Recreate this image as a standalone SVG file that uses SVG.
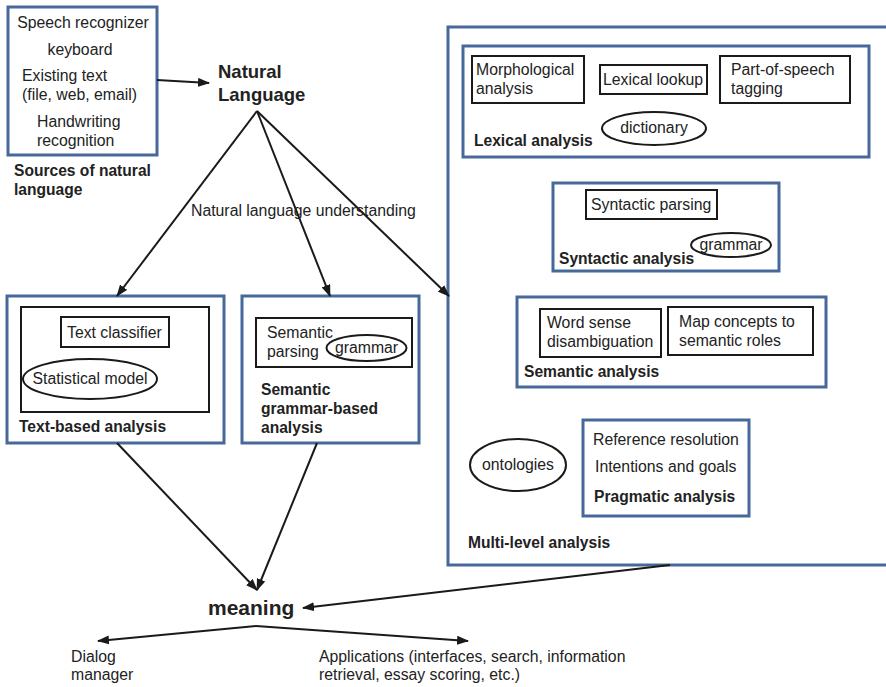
<svg xmlns="http://www.w3.org/2000/svg" width="886" height="687" viewBox="0 0 886 687">
  <defs>
    <marker id="ah" viewBox="0 0 12 9" refX="11" refY="4.5" markerWidth="12" markerHeight="9" orient="auto" markerUnits="userSpaceOnUse">
      <path d="M0,0 L12,4.5 L0,9 z" fill="#1a1a1a"/>
    </marker>
  </defs>
  <style>
    text { font-family: "Liberation Sans", Arial, Helvetica, sans-serif; fill: #222; font-size: 15.8px; }
    .b { font-weight: bold; font-size: 15.6px; }
    .big { font-weight: bold; font-size: 18.5px; }
    .huge { font-weight: bold; font-size: 21px; }
    .mid { text-anchor: middle; }
    .frame { fill: #fff; stroke: #47689a; stroke-width: 3; }
    .box { fill: none; stroke: #1a1a1a; stroke-width: 2; }
    .oval { fill: none; stroke: #1a1a1a; stroke-width: 2; }
    .edge { fill: none; stroke: #1a1a1a; stroke-width: 2; marker-end: url(#ah); }
  </style>
  <rect width="886" height="687" fill="#fff"/>

  <!-- sources of natural language -->
  <g id="sources">
    <rect class="frame" x="8" y="7" width="149" height="148"/>
    <text class="mid" x="83" y="28">Speech recognizer</text>
    <text class="mid" x="80" y="55">keyboard</text>
    <text x="22" y="81">Existing text</text>
    <text x="22" y="100">(file, web, email)</text>
    <text x="37" y="127">Handwriting</text>
    <text x="37" y="146">recognition</text>
    <text class="b" x="14" y="176">Sources of natural</text>
    <text class="b" x="14" y="195">language</text>
  </g>

  <g id="natural-language">
    <text class="big" x="218" y="78">Natural</text>
    <text class="big" x="218" y="101">Language</text>
  </g>

  <!-- text-based analysis -->
  <g id="text-based">
    <rect class="frame" x="7" y="296" width="217" height="147"/>
    <rect class="box" x="21" y="307" width="188" height="105"/>
    <rect class="box" x="61" y="317" width="108" height="30"/>
    <text x="67" y="338">Text classifier</text>
    <ellipse class="oval" cx="90" cy="379" rx="67" ry="20"/>
    <text class="mid" x="90" y="384">Statistical model</text>
    <text class="b" x="19" y="432">Text-based analysis</text>
  </g>

  <!-- semantic grammar-based analysis -->
  <g id="semantic-grammar">
    <rect class="frame" x="242" y="296" width="177" height="147"/>
    <rect class="box" x="256" y="318" width="156" height="49"/>
    <text x="267" y="338">Semantic</text>
    <text x="267" y="357">parsing</text>
    <ellipse class="oval" cx="366.5" cy="348" rx="40" ry="13"/>
    <text class="mid" x="366.5" y="353">grammar</text>
    <text class="b" x="261" y="395">Semantic</text>
    <text class="b" x="261" y="414">grammar-based</text>
    <text class="b" x="261" y="433">analysis</text>
  </g>

  <!-- multi-level analysis -->
  <g id="multi-level">
    <rect class="frame" x="448" y="27" width="450" height="538"/>
    <text class="b" x="468" y="548">Multi-level analysis</text>
  </g>

  <g id="lexical">
    <rect class="frame" x="463" y="46" width="406" height="111"/>
    <rect class="box" x="472" y="56" width="112" height="47"/>
    <text x="476" y="75">Morphological</text>
    <text x="476" y="94">analysis</text>
    <rect class="box" x="600" y="65" width="107" height="29"/>
    <text x="603" y="85">Lexical lookup</text>
    <rect class="box" x="720" y="56" width="130" height="47"/>
    <text x="731" y="75">Part-of-speech</text>
    <text x="731" y="94">tagging</text>
    <ellipse class="oval" cx="654" cy="128.5" rx="52" ry="16.5"/>
    <text class="mid" x="654" y="133">dictionary</text>
    <text class="b" x="474" y="146">Lexical analysis</text>
  </g>

  <g id="syntactic">
    <rect class="frame" x="553" y="183" width="226" height="88"/>
    <rect class="box" x="586" y="190" width="131" height="29"/>
    <text x="591" y="210">Syntactic parsing</text>
    <ellipse class="oval" cx="731" cy="245" rx="40" ry="12"/>
    <text class="mid" x="731" y="250">grammar</text>
    <text class="b" x="559" y="264">Syntactic analysis</text>
  </g>

  <g id="semantic">
    <rect class="frame" x="517" y="297" width="309" height="90"/>
    <rect class="box" x="540" y="309" width="121" height="48"/>
    <text x="547" y="328">Word sense</text>
    <text x="547" y="347">disambiguation</text>
    <rect class="box" x="668" y="307" width="145" height="48"/>
    <text x="679" y="327">Map concepts to</text>
    <text x="679" y="346">semantic roles</text>
    <text class="b" x="524" y="377">Semantic analysis</text>
  </g>

  <g id="pragmatic">
    <rect class="frame" x="583" y="420" width="166" height="96"/>
    <text x="593" y="445">Reference resolution</text>
    <text x="595" y="472">Intentions and goals</text>
    <text class="b" x="594" y="502">Pragmatic analysis</text>
  </g>

  <g id="ontologies">
    <ellipse class="oval" cx="518" cy="465" rx="48" ry="26"/>
    <text class="mid" x="518" y="470">ontologies</text>
  </g>

  <g id="meaning">
    <text class="huge" x="208" y="615">meaning</text>
  </g>

  <g id="outputs">
    <text x="71" y="662">Dialog</text>
    <text x="71" y="680">manager</text>
    <text x="319" y="662">Applications (interfaces, search, information</text>
    <text x="319" y="680">retrieval, essay scoring, etc.)</text>
  </g>

  <!-- connectors -->
  <g id="connectors">
    <line class="edge" x1="157" y1="80" x2="209" y2="83"/>
    <line class="edge" x1="257" y1="111" x2="117" y2="296"/>
    <line class="edge" x1="257" y1="111" x2="330" y2="296"/>
    <line class="edge" x1="257" y1="111" x2="449" y2="296"/>
    <line class="edge" x1="117" y1="443" x2="257" y2="590"/>
    <line class="edge" x1="317" y1="443" x2="257" y2="590"/>
    <line class="edge" x1="670" y1="565" x2="303" y2="608"/>
    <line class="edge" x1="256" y1="626" x2="98" y2="641"/>
    <line class="edge" x1="256" y1="626" x2="468" y2="641"/>
  </g>
  <text x="191" y="216">Natural language understanding</text>
</svg>
